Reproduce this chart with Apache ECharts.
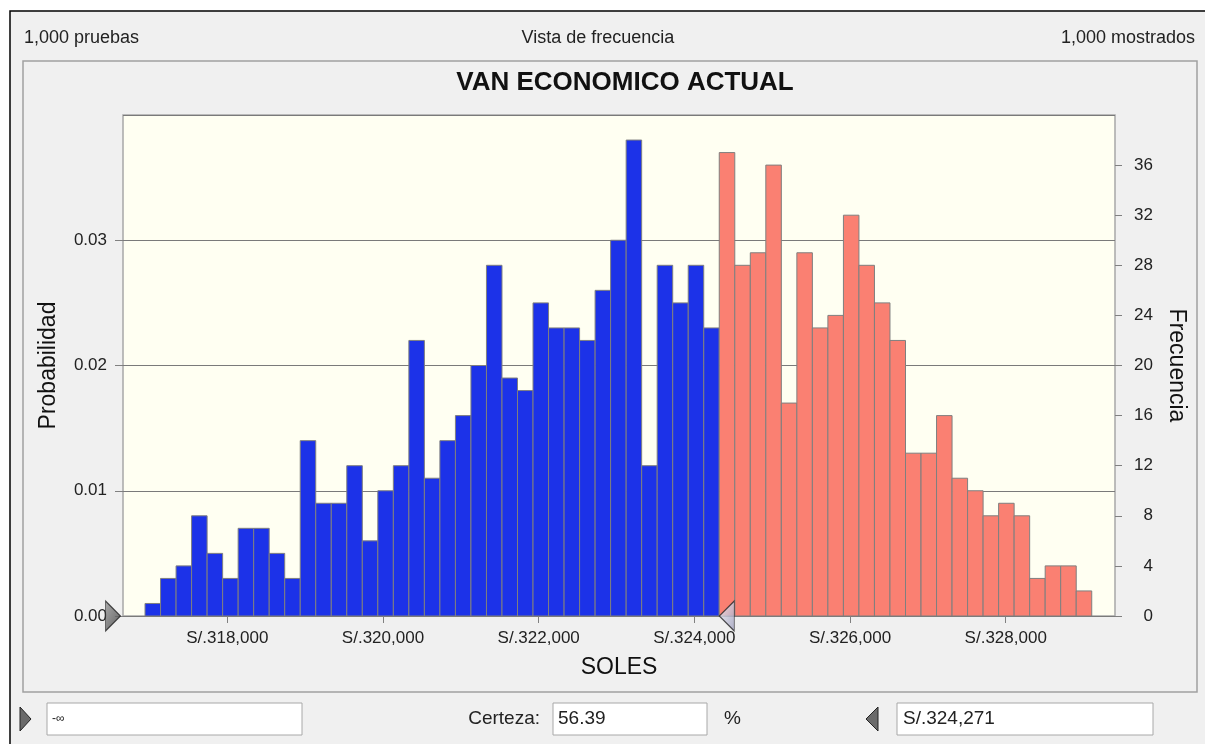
<!DOCTYPE html>
<html>
<head>
<meta charset="utf-8">
<title>VAN ECONOMICO ACTUAL</title>
<script src="https://cdn.jsdelivr.net/npm/echarts@6/dist/echarts.min.js"></script>
<style>
	html, body { margin: 0; padding: 0; background: #fff; }
	#chart { width: 1205px; height: 744px; }
</style>
</head>
<body>
<div id="chart"></div>
<script>
	// frecuencia de cada intervalo (1,000 pruebas)
	var counts = [1, 3, 4, 8, 5, 3, 7, 7, 5, 3, 14, 9, 9, 12, 6, 10, 12, 22, 11,
		14, 16, 20, 28, 19, 18, 25, 23, 23, 22, 26, 30, 38, 12, 28, 25, 28, 23,
		37, 28, 29, 36, 17, 29, 23, 24, 32, 28, 25, 22, 13, 13, 16, 11, 10, 8, 9, 8, 3, 4, 4, 2];
	var binStart = 316943;
	var binWidth = 199.38;
	var trials = 1000;
	var xTicks = [318000, 320000, 322000, 324000, 326000, 328000];
	var probTicks = [0, 0.01, 0.02, 0.03, 0.04];
	var freqTicks = [0, 4, 8, 12, 16, 20, 24, 28, 32, 36, 40];
	var certainty = 56.39;
	var certaintyValue = 324271;

	var FONT = '"Liberation Sans", Arial, sans-serif';
	var chart = echarts.init(document.getElementById('chart'));

	var bins = counts.map(function (c, i) {
		return [binStart + i * binWidth, binStart + (i + 1) * binWidth, c];
	});
	// el marcador se ajusta al borde de intervalo mas cercano
	var markerX = binStart + Math.round((certaintyValue - binStart) / binWidth) * binWidth;

	function fmtSoles(v) {
		return 'S/.' + Math.round(v).toLocaleString('en-US');
	}

	function tri(dir) {
		return dir == 'right' ? 'path://M0,0 L16,15 L0,30 Z' : 'path://M16,0 L0,15 L16,30 Z';
	}

	var option = {
		backgroundColor: '#ffffff',
		animation: false,
		title: {
			text: 'VAN ECONOMICO ACTUAL',
			left: 620,
			top: 65,
			textAlign: 'center',
			textStyle: { fontFamily: FONT, fontSize: 26, fontWeight: 'bold', color: '#111' }
		},
		grid: {
			left: 123, right: 90, top: 115, bottom: 128,
			show: true,
			backgroundColor: '#fffff2',
			borderColor: '#a8a8a8',
			borderWidth: 1.5
		},
		xAxis: {
			type: 'value',
			min: 316660,
			max: 329404,
			name: 'SOLES',
			nameLocation: 'middle',
			nameGap: 40,
			nameTextStyle: { fontFamily: FONT, fontSize: 23, color: '#111' },
			axisLine: { show: false },
			splitLine: { show: false },
			axisTick: { show: true, length: 7, lineStyle: { color: '#808080' }, customValues: xTicks },
			axisLabel: {
				customValues: xTicks,
				margin: 14,
				fontFamily: FONT, fontSize: 17, color: '#222',
				formatter: fmtSoles
			}
		},
		yAxis: [{
			type: 'value',
			min: probTicks[0],
			max: probTicks[probTicks.length - 1],
			interval: 0.01,
			name: 'Probabilidad',
			nameLocation: 'middle',
			nameGap: 63,
			nameTextStyle: { fontFamily: FONT, fontSize: 23, color: '#111' },
			axisLine: { show: false },
			axisTick: { show: true, length: 8, lineStyle: { color: '#808080' } },
			axisLabel: {
				showMaxLabel: false,
				margin: 16,
				fontFamily: FONT, fontSize: 17, color: '#222',
				formatter: function (v) { return v.toFixed(2); }
			},
			splitLine: { show: true, lineStyle: { color: '#7a7a7a', width: 1 } }
		}, {
			type: 'value',
			position: 'right',
			min: freqTicks[0],
			max: freqTicks[freqTicks.length - 1],
			interval: 4,
			name: 'Frecuencia',
			nameLocation: 'middle',
			nameRotate: -90,
			nameGap: 50,
			nameTextStyle: { fontFamily: FONT, fontSize: 23, color: '#111' },
			axisLine: { show: false },
			axisTick: { show: true, length: 7, lineStyle: { color: '#808080' } },
			axisLabel: {
				showMaxLabel: false,
				align: 'right',
				margin: 38,
				fontFamily: FONT, fontSize: 17, color: '#222'
			},
			splitLine: { show: false }
		}],
		series: [{
			type: 'custom',
			yAxisIndex: 1,
			encode: { x: [0, 1], y: 2 },
			data: bins,
			renderItem: function (params, api) {
				var x0 = api.value(0), x1 = api.value(1), c = api.value(2);
				var p0 = api.coord([x0, c]);
				var p1 = api.coord([x1, 0]);
				var blue = (x0 + x1) / 2 < certaintyValue;
				return {
					type: 'rect',
					shape: { x: p0[0], y: p0[1], width: p1[0] - p0[0], height: p1[1] - p0[1] },
					style: { fill: blue ? '#1c32e8' : '#fa8072', stroke: '#7f7f7f', lineWidth: 1 }
				};
			}
		}, {
			type: 'scatter',
			yAxisIndex: 1,
			clip: false,
			z: 10,
			symbol: tri('right'),
			symbolSize: [15, 30],
			symbolOffset: [-10, 0],
			itemStyle: {
				color: new echarts.graphic.LinearGradient(0, 0, 1, 1, [
					{ offset: 0, color: '#9a9a9a' }, { offset: 1, color: '#3c3c3c' }]),
				borderColor: '#222', borderWidth: 1
			},
			data: [[316660, 0]]
		}, {
			type: 'scatter',
			yAxisIndex: 1,
			clip: false,
			z: 10,
			symbol: tri('left'),
			symbolSize: [15, 30],
			symbolOffset: [7.5, 0],
			itemStyle: {
				color: new echarts.graphic.LinearGradient(0, 0, 1, 1, [
					{ offset: 0, color: '#f4f4fb' }, { offset: 1, color: '#9c9cba' }]),
				borderColor: '#222', borderWidth: 1
			},
			data: [[markerX, 0]]
		}],
		graphic: [
			{ type: 'rect', z: -10, shape: { x: 10, y: 11, width: 1200, height: 740 },
				style: { fill: '#f0f0f0', stroke: '#000', lineWidth: 1.5 } },
			{ type: 'rect', z: -9, shape: { x: 23, y: 61, width: 1174, height: 631 },
				style: { fill: 'none', stroke: '#a0a0a0', lineWidth: 1.5 } },
			{ type: 'text', x: 24, y: 38, style: { text: trials.toLocaleString('en-US') + ' pruebas', font: '18px ' + FONT, fill: '#222', verticalAlign: 'middle' } },
			{ type: 'text', x: 598, y: 38, style: { text: 'Vista de frecuencia', font: '18px ' + FONT, fill: '#222', align: 'center', verticalAlign: 'middle' } },
			{ type: 'text', x: 1195, y: 38, style: { text: trials.toLocaleString('en-US') + ' mostrados', font: '18px ' + FONT, fill: '#222', align: 'right', verticalAlign: 'middle' } },
			// controles inferiores
			{ type: 'polygon', shape: { points: [[20, 707], [31, 719], [20, 731]] },
				style: { fill: '#6a6a6a', stroke: '#222', lineWidth: 1 } },
			{ type: 'rect', shape: { x: 47, y: 703, width: 255, height: 32 }, style: { fill: '#fff', stroke: '#a8a8a8', lineWidth: 1 } },
			{ type: 'text', x: 52, y: 719, style: { text: '-∞', font: '12px ' + FONT, fill: '#222', verticalAlign: 'middle' } },
			{ type: 'text', x: 540, y: 719, style: { text: 'Certeza:', font: '19px ' + FONT, fill: '#222', align: 'right', verticalAlign: 'middle' } },
			{ type: 'rect', shape: { x: 553, y: 703, width: 154, height: 32 }, style: { fill: '#fff', stroke: '#a8a8a8', lineWidth: 1 } },
			{ type: 'text', x: 558, y: 719, style: { text: certainty.toFixed(2), font: '19px ' + FONT, fill: '#222', verticalAlign: 'middle' } },
			{ type: 'text', x: 724, y: 719, style: { text: '%', font: '19px ' + FONT, fill: '#222', verticalAlign: 'middle' } },
			{ type: 'polygon', shape: { points: [[878, 707], [866, 719], [878, 731]] },
				style: { fill: '#6a6a6a', stroke: '#222', lineWidth: 1 } },
			{ type: 'rect', shape: { x: 897, y: 703, width: 256, height: 32 }, style: { fill: '#fff', stroke: '#a8a8a8', lineWidth: 1 } },
			{ type: 'text', x: 903, y: 719, style: { text: fmtSoles(certaintyValue), font: '19px ' + FONT, fill: '#222', verticalAlign: 'middle' } }
		]
	};
	chart.setOption(option);
</script>
</body>
</html>
